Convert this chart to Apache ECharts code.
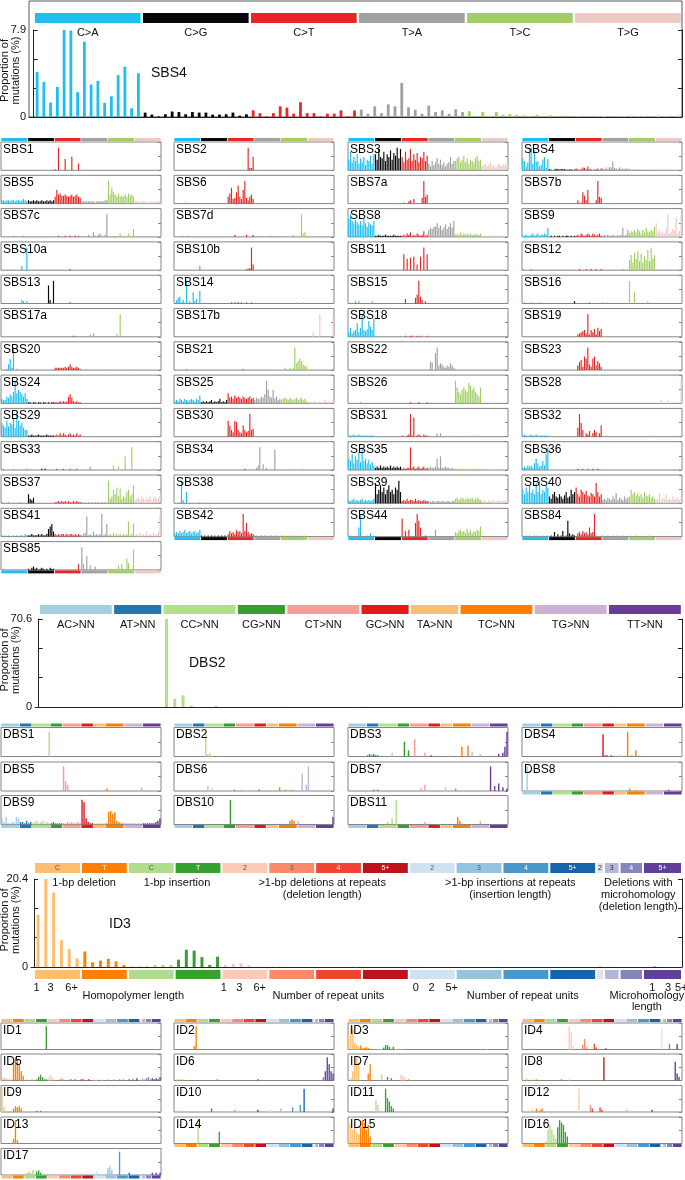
<!DOCTYPE html>
<html><head><meta charset="utf-8">
<script src="https://cdn.jsdelivr.net/npm/echarts@6/dist/echarts.min.js"></script>
<style>html,body{margin:0;padding:0;background:#fff;}#chart{width:685px;height:1180px;}</style>
</head><body><div id="chart"></div>
<script>
// ---------------- categories ----------------
const SBS_TYPES = ['C>A','C>G','C>T','T>A','T>C','T>G'];
const SBS_COUNTS = [16,16,16,16,16,16];
const SBS_COLORS = ['#1ebff0','#050708','#e62725','#a1a1a1','#a1cf64','#edc8c5'];

const DBS_TYPES = ['AC>NN','AT>NN','CC>NN','CG>NN','CT>NN','GC>NN','TA>NN','TC>NN','TG>NN','TT>NN'];
const DBS_COUNTS = [9,6,9,6,9,6,6,9,9,9];
const DBS_COLORS = ['#a6cee3','#1f78b4','#b2df8a','#33a02c','#fb9a99','#e31a1c','#fdbf6f','#ff7f00','#cab2d6','#6a3d9a'];

const ID_TYPES = ['C','T','C','T','2','3','4','5+','2','3','4','5+','2','3','4','5+'];
const ID_COUNTS = [6,6,6,6,6,6,6,6,6,6,6,6,1,2,3,5];
const ID_COLORS = ['#fdbe6f','#ff8001','#b0dd8b','#36a12e','#fdcab5','#fc8a6a','#f14432','#bc141a','#d0e1f2','#94c4df','#4a98c9','#1764ab','#e2e2ef','#b6b6d8','#8683bd','#61409b'];
const ID_TYPE_TEXT_COLORS = ['#555','#fff','#555','#fff','#555','#555','#fff','#fff','#555','#555','#fff','#fff','#333','#333','#fff','#fff'];
const ID_TOP_LABELS = [[6.4,'1-bp deletion'],[18.3,'1-bp insertion'],[36.9,'>1-bp deletions at repeats\n(deletion length)'],[61,'>1-bp insertions at repeats\n(insertion length)'],[77.4,'Deletions with\nmicrohomology\n(deletion length)']];
const ID_TICK_LABELS = [[0.3,'1'],[2.1,'3'],[4.8,'6+'],[24.3,'1'],[26.3,'3'],[28.9,'6+'],[48.9,'0'],[50.9,'2'],[53.5,'5+'],[79.2,'1'],[81.2,'3'],[82.9,'5+']];
const ID_AXIS_LABELS = [[12.7,'Homopolymer length'],[37.7,'Number of repeat units'],[62.6,'Number of repeat units'],[78.5,'Microhomology\nlength']];

const SBS_Y_LABELS = ['0','7.9'];
const DBS_Y_LABELS = ['0','70.6'];
const ID_Y_LABELS = ['0','20.4'];
const Y_TITLE = 'Proportion of\nmutations (%)';

// ---------------- SBS data (96 channels: C>A, C>G, C>T, T>A, T>C, T>G x 16 contexts) ----------------
// big panel in % ; small panels in relative units (each scaled to its own maximum)
const SBS4 = [4.10,3.19,1.31,2.73,7.90,7.85,2.25,6.84,2.95,3.28,1.28,1.88,3.80,4.56,0.79,3.98,
 0.40,0.22,0.05,0.25,0.50,0.45,0.25,0.45,0.40,0.40,0.22,0.22,0.25,0.40,0.12,0.25,
 0.61,0.35,0.05,0.35,0.97,0.85,0.30,1.34,0.35,0.35,0.05,0.30,0.30,0.60,0.05,0.60,
 0.67,0.30,0.97,0.35,1.15,0.97,3.10,0.88,0.67,0.30,1.03,0.45,0.61,0.30,0.70,0.45,
 0.52,0.05,0.45,0.10,0.45,0.20,0.25,0.20,0.15,0.10,0.20,0.05,0.15,0.05,0.12,0.05,
 0.05,0.02,0.02,0.05,0.10,0.02,0.05,0.05,0.15,0.05,0.05,0.02,0.15,0.05,0.02,0.15];
const SBS1 = [0,0,0,0,0,0,0,0,0,0,0,0,0,0,0,0, 0,0,0,0,0,0,0,0,0,0,0,0,0,0,0,0, 1,0,20,0,0,0,10,0,0,0,12,0,0,0,6,0, 0,0,0,0,0,0,0,0,0,0,0,0,0,0,0,0, 0,0,0,0,0,0,0,0,0,0,0,0,0,0,0,0, 0,0,0,0,0,0,0,0,0,0,0,0,0,0,0,0];
const SBS2 = [0,0,0,0,0,0,0,0,0,0,0,0,0,0,0,0, 0,0,0,0,0,0,0,0,0,0,0,0,0,0,0,0, 0,0,0,0,0,0,0,0,0,0,0,0,20,2,2,12, 0,0,0,0,0,0,0,0,0,0,0,0,0,0,0,0, 0,0,0,0,0,0,0,0,0,0,0,0,0,0,0,0, 0,0,0,0,0,0,0,0,0,0,0,0,0,0,0,0];
const SBS3 = [8,14,6,10,7,12,5,9,6,10,4,8,7,11,5,12, 12,8,16,10,9,14,7,12,10,15,8,13,11,17,9,16, 10,6,14,8,9,16,7,12,8,13,6,10,9,14,7,11, 5,3,7,4,6,9,5,8,4,6,3,5,6,10,5,7, 7,9,10,6,8,11,6,9,5,8,7,6,9,11,7,8, 3,4,5,3,4,6,3,4,2,3,5,4,3,5,4,6];
const SBS5 = [3,3,2,3,3,2,3,3,2,3,3,2,3,4,3,2, 3,2,2,3,2,3,2,2,3,2,2,3,2,3,2,3, 6,12,8,9,7,7,8,7,6,7,8,6,7,8,6,5, 2,2,2,2,2,2,2,2,1,2,2,2,2,2,3,3, 20,8,14,10,8,6,9,6,7,6,8,6,9,7,8,6, 2,2,2,1,2,2,2,1,1,2,2,1,2,2,2,2];
const SBS6 = [0,0,0,0,0,0,0,1,0,0,0,0,0,0,0,0, 0,0,0,0,0,0,0,0,0,0,0,0,0,0,0,0, 6,9,14,4,5,10,16,6,4,12,20,5,3,6,8,4, 0,0,0,0,0,0,0,0,0,0,0,0,0,0,0,0, 0,0,0,0,0,0,0,0,0,0,0,0,0,0,0,0, 0,0,0,0,0,0,0,0,0,0,0,0,0,0,0,0];
const SBS7a = [0,0,0,0,0,0,0,0,0,0,0,0,0,0,0,0, 0,0,0,0,0,0,0,0,0,0,0,0,0,0,0,0, 0,1,0,0,2,3,0,4,0,0,0,0,5,20,6,8, 0,0,0,0,0,0,0,0,0,0,0,0,0,0,0,0, 0,0,0,0,0,0,0,0,0,0,0,0,0,0,0,0, 0,0,0,0,0,0,0,0,0,0,0,0,0,0,0,0];
const SBS7b = [0,0,0,0,0,0,0,0,0,0,0,0,0,0,0,0, 0,0,0,0,0,0,0,0,0,0,0,0,0,0,0,0, 0,3,0,1,10,7,3,12,0,0,0,0,3,20,6,5, 0,0,0,0,0,0,0,0,0,0,0,0,0,0,0,0, 0,0,0,0,0,0,0,0,0,0,0,0,0,0,0,0, 0,0,0,0,0,0,0,0,0,0,0,0,0,0,0,0];
const SBS7c = [0,0,0,0,0,0,0,1,0,0,0,0,0,1,0,0, 0,0,0,0,0,0,0,0,0,0,0,0,0,0,0,0, 0,0,1,0,0,0,1,0,0,1,0,0,1,0,1,0, 0,0,0,0,2,0,0,4,1,0,2,3,1,0,2,20, 0,0,0,1,0,0,0,3,0,0,0,1,3,0,0,7, 0,0,0,0,0,0,0,0,0,0,0,0,0,0,0,1];
const SBS7d = [0,0,0,0,1,0,0,0,1,0,0,0,0,0,0,0, 0,0,0,0,0,0,0,0,0,0,0,0,0,0,0,0, 0,0,0,0,2,0,0,0,0,0,0,2,0,0,0,2, 0,0,0,0,1,0,0,0,1,0,1,0,0,0,0,1, 0,0,0,0,0,0,0,2,0,0,0,0,20,3,4,1, 0,0,0,0,0,0,0,0,0,0,0,0,0,0,0,0];
const SBS8 = [16,20,14,12,15,13,11,14,10,16,12,9,13,11,10,14, 1,1,2,1,1,1,2,1,1,1,1,2,1,1,1,1, 1,2,1,3,2,4,1,2,1,3,2,1,2,5,1,2, 6,8,7,9,9,12,8,10,6,8,11,7,9,12,8,14, 2,3,2,4,2,3,2,3,2,3,2,2,3,2,2,3, 1,1,0,1,1,0,1,1,0,1,1,0,1,1,0,1];
const SBS9 = [1,1,2,1,1,2,3,1,2,3,1,2,2,3,2,8, 0,1,0,1,0,1,1,0,1,0,1,1,0,1,0,1, 1,2,1,3,2,1,2,3,2,1,3,2,1,2,3,1, 1,2,1,2,1,1,2,1,1,2,1,2,8,1,2,6, 3,5,4,6,4,7,5,3,6,4,8,5,4,6,5,9, 12,4,6,3,5,3,8,20,3,4,7,6,17,3,5,20];
const SBS10a = [0,0,0,0,0,0,0,0,0,0,0,0,4,0,0,20, 0,0,0,0,0,0,0,0,0,0,0,0,0,0,0,0, 0,0,0,0,0,0,0,0,0,1,0,0,0,0,0,0, 0,0,0,0,0,0,0,0,0,0,0,0,0,0,0,0, 0,0,0,0,0,0,0,0,0,0,0,0,0,0,0,0, 0,0,0,0,0,0,0,0,0,0,0,0,0,0,0,0];
const SBS10b = [0,0,0,0,0,0,0,0,0,0,0,0,0,0,0,4, 0,0,0,0,0,0,0,0,0,0,0,0,0,0,0,0, 0,0,0,0,0,0,0,0,0,0,0,1,1,2,20,5, 0,0,0,0,0,0,0,0,0,0,0,0,0,0,0,0, 0,0,0,0,0,0,0,0,0,0,0,0,0,0,0,0, 0,0,0,0,0,0,0,0,0,0,0,0,0,0,0,1];
const SBS11 = [0,0,0,0,0,0,0,0,0,0,0,0,0,0,0,0, 0,0,0,0,0,0,0,0,0,0,0,0,0,0,0,0, 0,14,0,10,0,11,0,12,0,5,0,12,0,20,0,14, 0,0,0,0,0,0,0,0,0,0,0,0,0,0,0,0, 0,0,0,0,0,0,0,0,0,0,0,0,0,0,0,0, 0,0,0,0,0,0,0,0,0,0,0,0,0,0,0,0];
const SBS12 = [1,0,0,0,0,1,0,0,0,0,0,0,0,0,0,0, 0,0,0,0,0,0,0,0,0,0,0,0,0,0,0,0, 0,0,1,0,0,0,1,0,0,1,0,0,1,0,0,1, 0,0,0,0,0,0,0,0,0,0,0,0,1,0,0,0, 8,12,6,14,9,15,7,13,6,11,8,16,7,18,9,12, 0,0,0,0,0,0,0,0,0,0,0,0,0,0,0,0];
const SBS13 = [0,0,0,0,0,0,0,0,0,0,0,0,3,2,0,2, 0,0,0,0,0,0,0,0,0,0,0,0,16,3,0,20, 0,0,0,0,0,0,0,0,0,1,0,0,0,0,0,0, 0,0,0,0,0,0,0,0,0,0,0,0,0,0,0,0, 0,0,0,0,0,0,0,0,0,0,0,0,0,0,0,0, 0,0,0,0,0,0,0,0,0,0,0,0,0,0,0,0];
const SBS14 = [0,3,5,6,1,3,0,20,0,2,0,10,2,4,0,11, 0,0,0,0,0,0,0,0,0,0,0,0,0,0,0,0, 0,0,1,0,1,0,1,0,1,0,0,1,0,0,1,0, 0,0,0,0,0,0,0,0,0,0,0,0,0,0,0,0, 0,0,0,0,0,0,0,0,0,1,0,0,0,1,0,0, 0,0,0,0,0,0,0,0,0,0,0,0,0,0,0,0];
const SBS15 = [0,0,0,0,2,0,2,0,0,0,0,0,0,0,2,0, 0,0,0,0,0,0,0,0,0,0,0,0,0,0,0,0, 0,0,4,0,0,0,0,0,5,8,20,6,3,0,2,0, 0,0,0,0,0,0,0,0,0,0,0,0,0,0,0,0, 0,0,0,0,0,0,0,0,0,0,0,0,1,0,0,0, 0,0,0,0,0,0,0,0,0,0,0,0,0,0,0,0];
const SBS16 = [0,1,0,0,0,1,0,0,0,0,1,0,0,0,0,0, 0,0,0,0,0,0,0,0,0,0,0,0,0,0,0,2, 0,0,0,0,0,0,0,0,1,0,0,0,0,0,0,0, 1,0,0,0,0,0,0,0,0,0,0,0,0,0,0,0, 20,0,0,10,0,0,0,0,0,0,0,2,0,0,0,0, 0,0,0,0,0,0,0,0,0,0,0,0,0,0,0,0];
const SBS17a = [0,0,0,0,0,0,0,0,0,0,0,0,0,0,0,0, 0,0,0,0,0,0,0,0,0,0,0,0,0,0,0,0, 0,0,0,0,0,0,0,0,0,0,0,1,0,0,0,0, 0,0,0,0,0,2,0,3,0,0,0,0,0,0,0,0, 0,0,0,0,0,3,0,20,0,0,0,0,0,0,0,0, 0,0,0,0,0,0,0,0,0,0,0,0,0,0,0,0];
const SBS17b = [0,0,0,0,0,0,0,0,0,0,0,0,0,0,0,0, 0,0,0,0,0,0,0,0,0,0,0,0,0,0,0,0, 0,0,0,0,0,0,0,0,0,0,0,0,0,0,0,0, 0,0,0,0,0,0,0,0,0,0,0,0,0,0,0,0, 0,0,0,0,0,0,0,0,0,0,0,0,0,0,0,0, 0,0,0,4,0,0,0,20,0,0,0,0,0,0,0,18];
const SBS18 = [4,8,3,5,6,12,4,8,20,6,5,7,14,9,6,16, 0,0,0,0,0,0,0,0,0,0,0,0,0,0,0,0, 0,0,1,0,0,1,1,0,0,1,0,1,0,0,0,1, 0,0,0,0,0,0,0,0,0,0,0,0,0,0,0,0, 0,0,0,0,0,0,0,0,0,0,0,0,0,0,0,0, 0,0,0,0,0,0,0,0,0,0,0,0,0,0,0,0];
const SBS19 = [0,0,0,0,0,0,0,0,0,0,0,0,0,0,0,0, 0,0,0,0,0,0,0,0,0,0,0,0,0,0,0,0, 0,2,3,4,5,6,3,20,2,6,4,7,2,8,5,7, 0,0,0,0,0,0,0,0,0,0,0,0,0,0,0,0, 0,0,0,0,0,0,0,0,0,0,0,0,0,0,0,0, 0,0,0,0,0,0,0,0,0,0,0,0,0,0,0,0];
const SBS20 = [0,0,0,1,5,10,2,20,0,1,0,0,0,0,0,0, 0,0,0,0,0,0,0,0,0,0,0,0,0,0,0,0, 2,2,2,2,2,2,3,2,3,5,3,2,2,3,2,1, 0,0,0,1,0,0,0,0,0,0,0,0,0,0,0,0, 0,1,0,0,0,0,0,0,0,0,0,0,0,0,0,1, 0,0,0,0,0,0,0,0,0,0,0,0,0,0,0,0];
const SBS21 = [0,0,0,0,0,0,0,1,0,0,0,0,0,0,0,0, 0,0,0,0,0,0,0,0,0,0,0,0,0,0,0,0, 0,0,0,0,0,0,0,0,0,1,0,0,0,0,0,0, 0,0,0,0,0,0,0,0,0,0,0,0,0,0,0,0, 0,0,2,0,0,2,0,2,20,6,8,10,8,5,4,3, 0,0,0,0,0,0,0,0,0,0,0,0,0,0,0,0];
const SBS22 = [0,0,0,0,0,0,0,0,0,0,0,0,0,0,0,0, 0,0,0,0,0,0,0,0,0,0,0,0,0,0,0,0, 0,0,0,0,0,0,0,0,0,0,0,0,0,0,0,0, 0,7,7,0,15,20,4,6,5,3,2,4,3,6,4,2, 1,0,0,0,0,0,0,0,0,0,0,0,0,0,0,0, 0,0,0,0,0,0,0,0,0,0,0,0,0,0,0,0];
const SBS23 = [0,0,0,0,0,0,0,0,0,0,0,0,0,0,0,0, 0,0,0,0,0,0,0,0,0,0,0,0,0,0,0,0, 0,4,7,9,3,12,10,20,5,3,10,12,4,8,6,3, 0,0,0,0,0,0,0,0,0,0,0,0,0,0,0,0, 0,0,0,0,0,0,0,0,0,0,0,0,0,0,0,0, 0,0,0,0,0,0,0,0,0,0,0,0,0,0,0,0];
const SBS24 = [4,3,3,6,5,8,6,10,20,9,12,10,8,6,9,4, 1,1,0,1,1,0,1,1,0,1,1,0,1,0,1,1, 1,1,1,2,1,2,1,2,6,8,5,2,1,2,1,1, 0,0,0,0,0,0,0,0,0,0,0,0,0,0,0,0, 0,0,0,0,0,0,0,0,0,0,0,0,0,0,0,0, 0,0,0,0,0,0,0,0,0,0,0,0,0,0,0,0];
const SBS25 = [2,3,2,4,3,2,4,3,2,3,4,3,2,4,3,7, 1,2,1,2,1,2,3,1,2,1,2,4,1,2,1,3, 9,5,6,4,7,5,6,5,4,6,5,4,5,6,4,5, 3,5,4,4,6,5,8,20,12,6,5,12,4,6,3,4, 3,4,5,4,3,5,4,3,4,5,3,4,5,3,4,2, 1,2,1,1,2,1,1,2,1,1,3,1,2,1,1,3];
const SBS26 = [0,0,0,0,0,0,0,1,0,0,0,0,0,0,0,0, 0,0,0,0,0,0,0,0,0,0,0,0,0,0,0,0, 0,0,0,0,0,1,0,0,0,0,1,0,0,0,0,1, 0,0,0,0,0,0,0,0,0,0,0,0,0,0,0,0, 20,14,10,8,12,14,12,10,18,16,12,14,10,8,6,14, 0,0,0,0,0,0,0,0,1,0,0,0,0,0,0,0];
const SBS28 = [0,0,0,0,0,0,0,0,0,0,0,0,0,0,0,0, 0,0,0,0,0,0,0,0,0,0,0,0,0,0,0,0, 0,0,0,0,0,0,0,0,0,0,0,0,0,0,0,0, 0,0,0,0,0,0,0,0,0,0,0,0,0,0,0,0, 0,0,0,0,0,0,0,0,0,0,0,0,0,0,0,0, 0,0,0,3,0,0,0,3,0,0,0,1,0,0,0,20];
const SBS29 = [12,10,8,14,9,12,11,16,8,20,14,10,12,8,6,6, 1,1,2,1,1,1,2,1,1,1,1,2,1,1,1,1, 1,2,1,3,1,3,2,1,2,3,1,2,1,3,1,2, 0,0,0,0,0,0,0,0,0,0,0,0,0,0,0,0, 0,0,0,0,0,0,0,0,0,0,0,0,0,0,0,0, 0,0,0,0,0,0,0,0,0,0,0,0,0,0,0,0];
const SBS30 = [0,0,0,0,0,0,0,0,0,0,0,0,0,0,0,0, 0,0,0,0,0,0,0,0,0,0,0,0,0,0,0,0, 14,10,6,4,14,13,6,4,3,10,6,4,5,20,6,7, 0,0,0,0,0,0,0,0,0,0,0,0,0,0,0,0, 0,0,0,0,0,0,0,0,0,0,0,0,0,0,0,0, 0,0,0,0,0,0,0,0,0,0,0,0,0,0,0,0];
const SBS31 = [1,1,1,2,1,1,2,1,1,1,1,1,1,1,1,1, 0,0,0,0,0,0,0,0,0,0,0,0,0,0,0,0, 1,0,0,1,2,20,1,17,0,1,2,1,0,2,1,1, 0,0,0,0,0,3,0,3,0,0,0,0,0,0,0,0, 1,0,1,0,0,0,1,0,0,0,1,0,0,0,1,0, 0,0,0,0,0,0,0,0,0,0,0,0,0,0,0,0];
const SBS32 = [1,2,1,1,1,2,1,1,2,1,1,1,1,1,1,1, 0,0,0,0,0,0,0,0,0,0,0,0,0,0,0,0, 0,8,20,12,6,0,3,2,5,0,3,6,4,0,3,10, 0,0,1,0,0,0,0,0,0,0,0,0,0,0,0,0, 0,0,0,0,0,0,0,0,0,0,0,0,1,0,0,0, 0,0,0,0,0,0,0,0,0,0,0,0,0,0,0,0];
const SBS33 = [0,1,0,0,0,0,0,1,0,0,0,0,0,0,0,1, 0,0,0,0,0,0,0,0,1,0,1,0,0,0,0,0, 0,1,0,0,0,1,0,0,0,1,0,0,0,1,0,0, 0,0,0,0,0,3,0,0,0,0,0,0,0,0,0,0, 0,0,0,4,0,0,3,0,0,0,12,0,0,0,20,0, 0,0,0,0,0,0,0,0,0,0,0,0,0,0,0,0];
const SBS34 = [0,0,0,0,0,0,0,0,0,0,0,0,0,0,0,0, 0,0,0,0,0,0,0,0,0,0,0,0,0,0,0,0, 0,0,0,0,0,0,0,0,0,0,1,0,0,0,0,0, 0,2,4,20,0,5,0,2,0,0,0,0,18,0,0,0, 0,0,0,0,0,1,0,0,0,0,0,0,0,1,0,0, 0,0,0,0,0,0,0,0,0,0,0,0,0,0,0,0];
const SBS35 = [10,8,14,6,12,9,16,7,20,8,10,6,9,5,7,4, 2,3,2,4,2,3,2,3,2,4,2,3,2,3,2,3, 1,2,1,2,2,20,2,3,1,2,3,1,2,3,1,2, 2,3,2,2,3,10,2,12,2,2,3,2,2,1,2,1, 1,1,0,1,1,0,1,1,0,1,1,0,1,1,0,1, 1,0,1,0,1,0,1,0,1,0,1,0,1,0,1,0];
const SBS36 = [2,3,2,4,3,4,2,6,10,6,3,4,8,4,14,20, 0,0,0,0,0,0,0,0,0,0,0,0,0,0,0,0, 0,1,0,0,1,0,0,1,0,0,1,0,0,1,0,0, 0,0,0,0,0,0,0,0,0,0,0,0,0,0,0,0, 0,0,0,0,0,0,0,0,0,0,0,0,0,0,0,0, 0,0,0,0,0,0,0,0,0,0,0,0,0,0,0,1];
const SBS37 = [1,0,0,0,1,0,0,0,0,0,0,1,0,0,0,0, 8,4,3,5,0,0,0,0,0,0,0,0,0,0,0,0, 1,1,2,1,2,1,2,1,2,1,1,2,1,2,1,1, 1,0,1,0,1,0,1,0,1,0,1,0,1,0,1,0, 20,4,6,12,8,14,6,13,4,6,5,10,12,6,8,16, 3,4,5,3,6,4,3,5,4,7,3,5,6,4,5,7];
const SBS38 = [0,0,0,1,20,3,0,10,0,0,0,0,0,0,0,1, 0,0,0,0,0,0,0,0,0,0,0,0,0,0,0,0, 0,0,0,0,0,0,0,0,0,0,0,0,0,0,0,0, 0,0,0,0,0,0,0,0,0,0,0,0,0,0,0,0, 0,0,0,0,0,0,0,0,0,0,0,0,0,0,0,0, 0,0,0,0,0,0,0,0,0,0,0,0,0,0,0,0];
const SBS39 = [3,2,3,4,2,3,2,3,4,2,3,2,3,2,3,4, 18,8,12,16,10,14,8,12,16,10,12,8,14,12,20,10, 2,3,2,4,2,3,3,2,4,2,3,2,2,3,2,2, 2,1,2,2,1,2,2,1,2,2,1,2,2,1,2,2, 4,5,3,4,5,4,3,5,4,4,5,3,4,5,4,3, 2,3,2,1,3,2,2,3,1,2,3,2,2,3,2,3];
const SBS40 = [12,8,14,10,16,9,12,8,18,10,20,8,12,10,16,14, 6,4,8,10,6,5,8,6,4,7,10,5,6,12,8,10, 14,8,6,12,10,8,11,7,6,9,8,6,18,10,6,8, 3,4,3,5,4,3,6,4,9,3,5,4,3,6,4,5, 6,12,8,10,7,9,6,8,5,10,7,6,8,5,6,4, 3,4,9,3,5,4,8,3,4,3,6,3,4,5,3,7];
const SBS41 = [1,0,1,0,1,0,0,1,0,1,0,1,1,0,2,1, 1,1,2,1,1,1,2,1,2,1,1,2,6,8,10,4, 2,1,2,1,2,2,1,2,1,2,2,1,2,1,2,1, 1,2,3,16,1,2,1,4,1,2,1,2,18,1,2,10, 1,2,1,3,1,2,1,2,1,2,1,2,12,1,2,10, 1,2,1,3,1,2,1,4,1,2,1,3,1,2,4,18];
const SBS42 = [3,4,3,5,3,4,6,3,4,5,3,4,5,3,4,6, 1,0,1,0,1,0,1,0,1,0,1,0,1,0,1,0, 2,5,3,4,2,6,4,5,3,20,5,12,4,2,3,2, 1,1,0,1,1,0,1,1,0,1,1,0,1,1,0,1, 1,0,1,0,1,0,1,0,1,0,1,0,1,0,1,0, 0,0,0,0,0,0,0,0,0,0,0,0,0,0,0,0];
const SBS44 = [0,1,0,0,0,0,8,20,0,0,0,1,0,3,0,1, 0,0,0,0,0,0,0,0,0,0,0,0,0,0,0,0, 16,0,5,0,6,0,0,0,12,20,14,8,0,0,1,0, 0,0,0,0,6,0,0,0,0,0,0,0,0,0,0,0, 4,3,5,6,4,5,3,7,4,6,3,5,4,6,5,9, 0,0,0,0,0,0,0,0,0,0,0,0,0,0,0,0];
const SBS84 = [1,0,1,0,1,0,0,1,0,1,0,0,1,0,0,1, 0,1,0,4,0,2,0,1,5,0,1,14,3,1,2,1, 0,3,4,2,5,3,4,2,8,3,4,20,0,0,0,0, 1,0,0,1,0,0,1,0,0,1,0,0,1,0,0,0, 1,0,0,0,1,0,0,0,1,0,0,0,1,0,0,0, 0,0,0,0,0,0,0,0,0,0,0,0,0,0,0,0];
const SBS85 = [0,1,0,0,0,0,0,0,0,0,0,0,0,0,0,0, 1,0,2,3,1,2,0,1,2,1,0,1,0,2,1,1, 0,0,0,0,0,0,0,0,0,0,0,0,0,0,5,0, 20,5,0,12,0,4,0,0,3,0,0,0,0,0,0,0, 0,0,0,0,0,0,4,0,5,0,0,10,6,0,0,18, 0,0,0,0,0,0,0,0,0,0,0,0,0,0,0,0];

// ---------------- DBS data (78 channels) ----------------
const DBS2 = [0,0,0,0,0,0,0,0,0, 0,0,0,0,0,0, 70.6,6.5,9.4,1.0,0,0,0.8,0,0, 0,0,0,0,0,0.1, 0,0,0,0,0,0,0,0,0, 0.1,0,0,0,0,0, 0,0,0,0,0,0, 0,0,0,0,0,0,0,0,0, 0,0,0,0,0,0,0,0,0, 0.1,0,0,0,0,0,0,0,0];
const DBS1 = [0,0,0,0,0,0,0,0,0, 0,0,0,0,0,0, 0,0,1,0,0,0,0,0,20, 0,0,0,0,0,0, 0,0,0,0,0,0,0,0,0, 0,0,0,0,0,0, 0,0,0,0,0,0, 0,0,0,0,0,0,0,0,0, 0,0,0,0,0,0,0,0,0, 0,0,0,0,0,0,0,0,0];
const DBS3 = [0,0,0,0,0,0,0,0,0, 1,2,1,2,1,1, 0,0,0,0,0,0,3,0,0, 0,0,0,12,0,5, 0,0,14,0,0,0,0,3,0, 0,1,0,0,0,0, 0,0,0,0,1,0, 0,0,0,0,8,0,0,9,0, 4,0,0,0,2,0,0,0,0, 0,0,0,0,2,0,3,8,20];
const DBS4 = [0,0,0,0,0,0,0,0,0, 0,0,0,0,0,0, 0,0,0,0,0,0,0,0,0, 0,0,0,0,0,0, 0,0,0,0,0,0,0,0,0, 18,1,1,0,1,0, 1,0,1,1,0,1, 20,0,1,0,5,0,0,0,0, 0,0,0,0,0,0,0,0,0, 0,0,0,0,0,0,0,0,0];
const DBS5 = [0,0,0,0,0,0,0,0,0, 0,0,0,0,0,0, 0,1,0,0,0,0,0,0,0, 0,0,0,0,0,0, 20,8,5,0,0,0,0,0,0, 0,0,0,0,0,0, 0,0,0,0,0,0, 2,0,0,0,0,0,0,0,0, 0,0,0,0,0,0,0,0,3, 0,0,0,0,0,0,0,0,0];
const DBS6 = [0,0,0,0,0,0,0,0,0, 0,0,0,0,0,0, 0,4,0,2,0,0,0,0,0, 0,0,0,0,0,1, 0,0,1,0,0,0,0,0,1, 0,0,1,0,0,0, 0,0,0,1,0,0, 3,0,0,1,0,0,1,0,0, 0,0,14,0,5,20,0,0,0, 0,0,0,0,0,0,0,0,0];
const DBS7 = [0,1,0,0,0,0,0,0,0, 0,0,0,1,0,1, 0,0,0,0,0,0,0,0,0, 0,0,0,0,0,0, 0,0,0,0,0,2,0,5,0, 0,0,0,0,0,0, 0,0,3,0,0,0, 0,2,0,0,0,0,0,0,0, 0,0,0,0,0,0,0,0,0, 20,0,4,0,6,0,3,0,2];
const DBS8 = [0,0,20,0,0,0,0,0,0, 0,0,0,0,0,0, 0,1,0,0,0,0,0,0,0, 0,0,0,0,0,0, 0,0,0,0,0,0,0,0,0, 0,0,0,0,0,0, 0,0,0,0,0,0, 0,2,0,0,1,0,0,0,0, 0,0,0,0,0,0,0,0,0, 0,0,1,0,0,0,0,0,0];
const DBS9 = [5,2,6,1,1,2,2,6,5, 2,2,1,3,1,2, 1,2,3,1,2,3,1,2,1, 1,2,1,1,1,1, 1,1,2,1,2,1,1,2,1, 20,18,5,2,1,1, 1,1,1,1,1,1, 1,10,11,9,10,3,2,1,1, 1,1,1,1,1,1,1,1,1, 1,1,1,1,1,1,2,3,5];
const DBS10 = [0,0,0,0,0,0,0,0,0, 0,0,0,0,0,0, 0,0,0,0,0,0,0,0,0, 0,0,0,20,0,0, 0,0,0,0,0,0,0,0,0, 0,0,0,0,0,0, 0,0,0,0,0,0, 0,0,0,0,0,3,4,3,0, 3,0,0,0,0,0,0,0,0, 0,0,0,0,0,0,0,0,6];
const DBS11 = [0,0,0,0,0,0,0,0,0, 0,0,0,0,0,0, 0,0,0,0,2,0,5,0,20, 0,0,0,0,0,0, 0,0,0,0,0,0,0,2,0, 0,0,0,0,0,0, 0,0,0,0,0,0, 0,0,6,3,0,0,0,0,0, 0,0,0,0,3,0,0,0,0, 0,0,0,0,0,0,0,0,0];

// ---------------- ID data (83 channels) ----------------
const ID3 = [12.1,20.4,17.2,6.2,4.2,2.0, 3.6,1.1,1.5,1.9,1.3,0.5, 0.15,0.15,0.2,0.5,0.5,0.5, 1.7,4.0,3.8,2.3,0.5,2.4, 0.5,0.7,0.9,0.5,0.1,0.05, 0.05,0.05,0,0,0,0, 0,0,0,0,0,0, 0,0,0,0,0,0, 0.05,0.05,0,0,0,0, 0,0,0,0,0,0, 0,0,0,0,0,0, 0,0,0,0,0,0, 0.4, 0.05,0, 0,0,0, 0,0.1,0,0,0];
const ID1 = [0,0,0,0,0,0, 0,0,0,0,0,0, 0,0,0,0,0,0, 0,0,0,0,0,20, 0,0,0,0,0,0, 0,0,0,0,0,0, 0,0,0,0,0,0, 0,0,0,0,0,0, 0,0,0,0,0,0, 0,0,0,0,0,0, 0,0,0,0,0,0, 0,0,0,0,0,0, 0, 0,0, 0,0,0, 0,0,0,0,0];
const ID2 = [0,0,0,0,0,0, 0,0,0,0,3,20, 0,0,0,0,0,0, 0,0,0,0,0,0, 0,0,0,0,0,0, 0,0,0,0,0,0, 0,0,0,0,0,0, 0,0,0,0,0,0, 0,0,0,0,0,0, 0,0,0,0,0,0, 0,0,0,0,0,0, 0,0,0,0,0,0, 0, 0,0, 0,0,0, 0,0,0,0,0];
const ID4 = [0,0,0,0,0,1, 0,0,0,0,0,0, 0,0,0,0,0,0, 0,0,0,0,0,0, 20,15,3,0,0,0, 0,4,9,2,0,0, 0,5,2,0,0,0, 0,1,0,0,0,0, 0,0,0,0,0,0, 0,0,0,0,0,0, 0,0,0,0,0,0, 0,0,0,0,0,0, 18, 0,0, 0,5,0, 0,0,5,0,0];
const ID5 = [3,2,2,1,1,1, 16,20,18,14,8,4, 0,1,0,1,1,0, 1,3,5,3,1,1, 2,5,3,1,0,0, 1,2,1,0,0,1, 1,0,1,0,0,1, 1,0,0,1,0,0, 1,1,0,0,1,0, 0,1,0,0,1,0, 0,1,0,1,0,0, 1,0,1,0,2,0, 1, 2,1, 2,3,1, 2,1,2,1,3];
const ID6 = [0,1,1,0,1,0, 0,0,0,0,0,0, 0,0,0,0,0,0, 0,0,0,0,1,0, 0,0,0,0,0,0, 0,0,0,0,0,0, 0,0,0,0,0,0, 0,1,0,0,0,0, 0,0,0,0,0,0, 0,0,0,0,0,0, 0,0,0,0,0,0, 0,0,0,0,0,0, 0, 0,0, 0,0,3, 8,20,14,8,6];
const ID7 = [0,2,8,14,20,13, 0,0,0,0,6,14, 0,0,0,0,0,5, 0,0,3,0,2,0, 0,0,0,5,4,3, 0,1,0,0,0,0, 0,0,0,0,0,0, 0,0,0,0,0,0, 0,0,0,0,0,0, 0,0,0,0,0,0, 0,0,0,0,0,0, 0,0,0,0,0,0, 0, 0,0, 0,0,0, 0,0,0,0,0];
const ID8 = [1,0,2,0,0,1, 0,1,0,0,0,0, 0,0,0,0,0,0, 0,0,1,0,0,0, 1,0,0,0,0,0, 0,0,0,0,0,0, 0,0,0,0,0,0, 20,0,0,0,0,0, 0,0,0,0,0,0, 0,0,0,0,0,0, 0,0,0,0,0,0, 0,0,0,0,0,0, 0, 0,0, 0,0,0, 0,16,6,3,0];
const ID9 = [20,4,0,0,0,0, 3,5,4,5,3,0, 0,0,0,0,0,0, 1,0,1,0,0,0, 0,0,0,0,0,0, 0,0,0,0,0,0, 0,0,0,0,0,0, 0,0,0,0,0,0, 0,0,0,0,0,0, 0,0,0,0,0,0, 0,0,0,0,0,0, 0,0,0,0,0,0, 0, 0,0, 0,0,0, 0,0,0,0,0];
const ID10 = [0,1,0,1,0,0, 0,0,0,0,0,0, 0,0,0,0,0,0, 0,3,0,0,0,0, 0,0,0,0,0,0, 0,2,0,0,0,0, 0,0,0,0,0,0, 0,2,0,0,0,0, 0,0,2,0,0,0, 0,3,0,0,0,0, 0,4,0,0,0,6, 0,20,0,0,0,0, 0, 0,0, 0,0,0, 0,0,0,0,3];
const ID11 = [0,0,0,0,0,0, 0,0,0,0,0,0, 0,0,10,6,0,0, 0,20,12,9,5,3, 0,0,0,0,0,0, 0,0,0,0,0,0, 0,0,0,0,0,0, 0,0,0,0,0,0, 0,0,0,0,0,0, 0,0,0,0,0,0, 0,0,0,0,0,0, 0,0,0,0,0,0, 0, 0,0, 0,0,0, 0,0,0,0,0];
const ID12 = [0,0,0,0,0,2, 0,3,0,2,3,0, 0,0,0,0,0,0, 0,0,0,0,0,0, 0,0,0,0,0,20, 0,0,0,0,0,6, 3,0,0,0,4,2, 0,0,0,0,0,0, 0,0,0,0,0,0, 2,0,0,0,0,0, 0,0,0,0,0,0, 0,2,0,0,0,0, 0, 0,0, 0,0,0, 0,0,0,0,0];
const ID13 = [0,0,0,0,0,0, 4,20,3,0,0,0, 0,0,0,0,0,1, 0,0,0,0,0,0, 0,0,0,0,0,0, 0,0,0,0,0,0, 0,0,0,0,0,0, 0,0,0,0,0,0, 0,0,0,0,0,0, 0,0,0,0,0,0, 0,0,0,0,0,0, 0,0,0,0,0,0, 0, 0,0, 0,0,0, 0,0,0,0,0];
const ID14 = [0,0,0,0,0,0, 0,0,0,0,0,0, 20,0,0,0,0,0, 0,0,0,0,0,10, 1,0,0,0,0,0, 0,0,0,0,0,0, 0,0,0,0,0,0, 0,0,0,0,0,0, 0,0,0,0,0,0, 0,0,0,0,0,0, 0,0,0,0,0,0, 0,0,0,0,0,0, 0, 0,0, 0,0,0, 0,0,0,0,0];
const ID15 = [18,16,12,14,10,8, 14,20,18,12,16,6, 0,1,0,0,0,0, 0,0,0,0,0,0, 0,0,0,0,0,0, 0,0,0,0,0,0, 0,0,0,0,0,0, 0,0,0,0,0,0, 0,0,0,0,0,0, 0,0,0,0,0,0, 0,0,0,0,0,0, 0,0,0,0,0,0, 0, 0,0, 0,0,0, 0,0,0,0,0];
const ID16 = [0,0,0,0,0,0, 0,0,0,0,0,0, 2,12,16,12,8,4, 14,20,18,16,10,6, 0,0,0,0,0,0, 0,0,0,0,0,0, 0,0,0,0,0,0, 0,0,0,0,0,0, 0,0,0,0,0,0, 0,0,0,0,0,0, 0,0,0,0,0,0, 0,0,0,0,0,0, 0, 0,0, 0,0,0, 0,0,0,0,0];
const ID17 = [0,0,0,0,0,0, 0,0,0,0,0,0, 0,2,3,2,4,0, 3,4,2,0,0,0, 0,0,0,0,0,0, 0,0,0,0,0,0, 0,0,0,0,0,0, 0,0,0,0,0,0, 0,3,0,0,0,0, 0,6,8,4,0,0, 0,20,0,0,0,0, 2,0,0,0,0,0, 0, 0,0, 0,0,0, 2,0,2,0,2];

const SBS_PANELS = [['SBS1',SBS1],['SBS2',SBS2],['SBS3',SBS3],['SBS4',SBS4],['SBS5',SBS5],['SBS6',SBS6],['SBS7a',SBS7a],['SBS7b',SBS7b],
 ['SBS7c',SBS7c],['SBS7d',SBS7d],['SBS8',SBS8],['SBS9',SBS9],['SBS10a',SBS10a],['SBS10b',SBS10b],['SBS11',SBS11],['SBS12',SBS12],
 ['SBS13',SBS13],['SBS14',SBS14],['SBS15',SBS15],['SBS16',SBS16],['SBS17a',SBS17a],['SBS17b',SBS17b],['SBS18',SBS18],['SBS19',SBS19],
 ['SBS20',SBS20],['SBS21',SBS21],['SBS22',SBS22],['SBS23',SBS23],['SBS24',SBS24],['SBS25',SBS25],['SBS26',SBS26],['SBS28',SBS28],
 ['SBS29',SBS29],['SBS30',SBS30],['SBS31',SBS31],['SBS32',SBS32],['SBS33',SBS33],['SBS34',SBS34],['SBS35',SBS35],['SBS36',SBS36],
 ['SBS37',SBS37],['SBS38',SBS38],['SBS39',SBS39],['SBS40',SBS40],['SBS41',SBS41],['SBS42',SBS42],['SBS44',SBS44],['SBS84',SBS84],['SBS85',SBS85]];
const DBS_PANELS = [['DBS1',DBS1],['DBS2',DBS2],['DBS3',DBS3],['DBS4',DBS4],['DBS5',DBS5],['DBS6',DBS6],['DBS7',DBS7],['DBS8',DBS8],['DBS9',DBS9],['DBS10',DBS10],['DBS11',DBS11]];
const ID_PANELS = [['ID1',ID1],['ID2',ID2],['ID3',ID3],['ID4',ID4],['ID5',ID5],['ID6',ID6],['ID7',ID7],['ID8',ID8],['ID9',ID9],['ID10',ID10],['ID11',ID11],['ID12',ID12],['ID13',ID13],['ID14',ID14],['ID15',ID15],['ID16',ID16],['ID17',ID17]];

// ---------------- chart building ----------------
const FONT = '"Liberation Sans", Arial, Helvetica, sans-serif';
const grids = [], xAxes = [], yAxes = [], series = [], graphics = [];
const total = c => c.reduce((a, b) => a + b, 0);
function typeOf(counts, i) { let s = 0; for (let k = 0; k < counts.length; k++) { s += counts[k]; if (i < s) return k; } return counts.length - 1; }
function segments(counts) { const out = []; let s = 0; counts.forEach((c, k) => { out.push([s, s + c, k]); s += c; }); return out; }
function addGrid(grid, xa, ya) {
  grids.push(grid); const gi = grids.length - 1;
  xa.gridIndex = gi; ya.gridIndex = gi; xAxes.push(xa); yAxes.push(ya);
  return { gi, xi: xAxes.length - 1, yi: yAxes.length - 1 };
}
function txtStyle(text, font, fill, align, valign, extra) {
  return Object.assign({ text, font, fill, align, verticalAlign: valign, textAlign: align, textVerticalAlign: valign }, extra || {});
}
function addFrame(box, color) {
  addGrid({ left: box.left, top: box.top, width: box.width, height: box.height, show: true, borderColor: color, borderWidth: 1, backgroundColor: 'transparent' },
    { type: 'value', show: false }, { type: 'value', show: false });
}
function addStrip(box, counts, colors, gap, xmin, extras) {
  const N = total(counts);
  const ax = addGrid({ left: box.left, top: box.top, width: box.width, height: box.height, show: false },
    { type: 'value', min: xmin, max: N, show: false },
    { type: 'value', min: 0, max: 1, show: false });
  series.push({ type: 'custom', xAxisIndex: ax.xi, yAxisIndex: ax.yi, silent: true, clip: false, animation: false,
    data: segments(counts), encode: { x: [0, 1] },
    renderItem: (params, api) => {
      const k = api.value(2);
      const a = api.coord([api.value(0), 1]), b = api.coord([api.value(1), 0]);
      const ch = [{ type: 'rect', shape: { x: a[0] + gap, y: a[1], width: Math.max(0.8, b[0] - a[0] - 2 * gap), height: b[1] - a[1] }, style: { fill: colors[k] } }];
      if (extras && extras.inner) ch.push({ type: 'text', x: (a[0] + b[0]) / 2, y: (a[1] + b[1]) / 2 + 0.5, style: txtStyle(extras.inner[k], extras.innerFont, extras.innerColors[k], 'center', 'middle') });
      if (extras && extras.below) ch.push({ type: 'text', x: (a[0] + b[0]) / 2, y: b[1] + extras.belowDy, style: txtStyle(extras.below[k], extras.belowFont, '#111', 'center', 'middle') });
      return { type: 'group', children: ch };
    } });
  return ax;
}
function addTextLayer(ax, items, dy, font, lineHeight) {
  series.push({ type: 'custom', xAxisIndex: ax.xi, yAxisIndex: ax.yi, silent: true, clip: false, animation: false,
    data: items.map((it, j) => [it[0], 0, j]), encode: { x: 0, y: 1 },
    renderItem: (params, api) => {
      const j = api.value(2); const p = api.coord([api.value(0), 0]);
      return { type: 'text', x: p[0], y: p[1] + dy, style: txtStyle(items[j][1], font, '#111', 'center', 'top', { lineHeight }) };
    } });
}
function addBigChart(c) {
  const N = c.data.length;
  const ax = addGrid({ left: c.left, top: c.top, width: c.width, height: c.height, show: false },
    { type: 'value', min: c.xmin, max: N, axisLine: { show: true, onZero: false, lineStyle: { color: '#222', width: 1 } }, axisTick: { show: false }, axisLabel: { show: false }, splitLine: { show: false } },
    { type: 'value', min: 0, max: c.ymax, interval: c.ymax / 3, axisLine: { show: true, lineStyle: { color: '#222', width: 1 } },
      axisTick: { show: true, inside: true, length: 4, lineStyle: { color: '#222' } },
      axisLabel: { fontSize: 11, color: '#111', fontFamily: FONT, margin: 3, showMinLabel: true, showMaxLabel: true,
        formatter: v => (v === 0 ? c.yLabels[0] : (Math.abs(v - c.ymax) < 1e-6 ? c.yLabels[1] : '')) },
      splitLine: { show: false } });
  yAxes.push({ gridIndex: ax.gi, type: 'value', position: 'right', min: 0, max: c.ymax, interval: c.ymax / 3,
    axisLine: { show: true, lineStyle: { color: '#222', width: 1 } }, axisTick: { show: true, inside: true, length: 4, lineStyle: { color: '#222' } },
    axisLabel: { show: false }, splitLine: { show: false } });
  series.push({ type: 'bar', xAxisIndex: ax.xi, yAxisIndex: ax.yi, barWidth: c.barWidth, silent: true, animation: false,
    data: c.data.map((v, i) => ({ value: [i + 0.5, v], itemStyle: { color: c.colors[typeOf(c.counts, i)] } })) });
  graphics.push({ type: 'text', x: c.nameX, y: c.nameY, z: 100, style: txtStyle(c.name, `14px ${FONT}`, '#111', 'left', 'middle') });
  graphics.push({ type: 'text', x: 10, y: c.top + c.height / 2 - 3, rotation: Math.PI / 2, z: 100, style: txtStyle(Y_TITLE, `11px ${FONT}`, '#111', 'center', 'middle', { lineHeight: 11 }) });
  return ax;
}
function addSmallPanel(name, data, counts, colors, left, top, w, h, fill) {
  const m = Math.max(...data), ymax = m / fill;
  const ax = addGrid({ left, top, width: w, height: h, show: true, borderColor: '#858585', borderWidth: 1, backgroundColor: 'transparent' },
    { type: 'category', data: data.map((_, i) => i), show: false },
    { type: 'value', position: 'right', min: 0, max: ymax, interval: ymax / 2, axisLine: { show: false },
      axisTick: { show: true, inside: true, length: 3, lineStyle: { color: '#858585' } }, axisLabel: { show: false }, splitLine: { show: false } });
  series.push({ type: 'bar', xAxisIndex: ax.xi, yAxisIndex: ax.yi, barCategoryGap: '30%', silent: true, animation: false,
    data: data.map((v, i) => ({ value: v, itemStyle: { color: colors[typeOf(counts, i)] } })) });
  graphics.push({ type: 'text', x: left + 2, y: top + 1.5, z: 100, style: txtStyle(name, `12px ${FONT}`, '#000', 'left', 'top') });
}
function addSmallSection(panels, counts, colors, colLeft, W, rowTops, H, fill) {
  const last = [-1, -1, -1, -1];
  panels.forEach((p, k) => {
    const c = k % 4, r = Math.floor(k / 4);
    addSmallPanel(p[0], p[1], counts, colors, colLeft[c], rowTops[r], W, H, fill);
    last[c] = Math.max(last[c], r);
  });
  for (let c = 0; c < 4; c++) {
    if (last[c] < 0) continue;
    addStrip({ left: colLeft[c], top: rowTops[0] - 4, width: W, height: 3 }, counts, colors, 0.4, 0);
    addStrip({ left: colLeft[c], top: rowTops[last[c]] + H + 0.5, width: W, height: 3 }, counts, colors, 0.4, 0);
  }
}

// layout
const COL_LEFT = [1, 174, 348, 522], COL_W = 160;

// --- SBS ---
addFrame({ left: 29, top: 1, width: 653, height: 116 }, '#555');
addStrip({ left: 29, top: 13, width: 653, height: 10 }, SBS_COUNTS, SBS_COLORS, 1.2, -0.7, { below: SBS_TYPES, belowDy: 10, belowFont: `11px ${FONT}` });
addBigChart({ left: 29, top: 30, width: 653, height: 87, data: SBS4, counts: SBS_COUNTS, colors: SBS_COLORS, xmin: -0.7, ymax: 7.9, yLabels: SBS_Y_LABELS, barWidth: 2.8, name: 'SBS4', nameX: 151, nameY: 73 });
addSmallSection(SBS_PANELS, SBS_COUNTS, SBS_COLORS, COL_LEFT, COL_W, Array.from({ length: 13 }, (_, r) => 142 + 33.3 * r), 28.3, 0.8);

// --- DBS ---
addStrip({ left: 35, top: 605, width: 647, height: 9 }, DBS_COUNTS, DBS_COLORS, 1.2, -0.45, { below: DBS_TYPES, belowDy: 11, belowFont: `11px ${FONT}` });
addBigChart({ left: 35, top: 619, width: 647, height: 88, data: DBS2, counts: DBS_COUNTS, colors: DBS_COLORS, xmin: -0.45, ymax: 70.6, yLabels: DBS_Y_LABELS, barWidth: 3, name: 'DBS2', nameX: 189, nameY: 663 });
addSmallSection(DBS_PANELS, DBS_COUNTS, DBS_COLORS, COL_LEFT, COL_W, [727.5, 762, 795.5], 29, 0.85);

// --- ID ---
const idTop = addStrip({ left: 31, top: 863, width: 651, height: 10 }, ID_COUNTS, ID_COLORS, 1.0, -0.4, { inner: ID_TYPES, innerColors: ID_TYPE_TEXT_COLORS, innerFont: `7px ${FONT}` });
addTextLayer(idTop, ID_TOP_LABELS, 4, `11px ${FONT}`, 12);
addBigChart({ left: 31, top: 879, width: 651, height: 88, data: ID3, counts: ID_COUNTS, colors: ID_COLORS, xmin: -0.4, ymax: 20.4, yLabels: ID_Y_LABELS, barWidth: 3, name: 'ID3', nameX: 109, nameY: 924 });
const idBottom = addStrip({ left: 31, top: 970, width: 651, height: 9 }, ID_COUNTS, ID_COLORS, 1.0, -0.4);
addTextLayer(idBottom, ID_TICK_LABELS, 3, `11px ${FONT}`, 11);
addTextLayer(idBottom, ID_AXIS_LABELS, 11.5, `11px ${FONT}`, 11);
addSmallSection(ID_PANELS, ID_COUNTS, ID_COLORS, COL_LEFT, COL_W, [1023, 1054, 1085.5, 1117, 1148.5], 26.5, 0.88);

// sanity check of channel counts
const bad = [];
SBS_PANELS.forEach(p => { if (p[1].length !== 96) bad.push(p[0] + ':' + p[1].length); });
DBS_PANELS.forEach(p => { if (p[1].length !== 78) bad.push(p[0] + ':' + p[1].length); });
ID_PANELS.forEach(p => { if (p[1].length !== 83) bad.push(p[0] + ':' + p[1].length); });
if (bad.length) graphics.push({ type: 'text', x: 200, y: 600, z: 200, style: txtStyle('BAD ' + bad.join(' '), `14px ${FONT}`, '#f00', 'left', 'top') });

const chart = echarts.init(document.getElementById('chart'), null, { renderer: 'canvas' });
chart.setOption({
  animation: false,
  backgroundColor: '#fff',
  textStyle: { fontFamily: FONT },
  grid: grids, xAxis: xAxes, yAxis: yAxes, series: series,
  graphic: { elements: graphics }
});
</script></body></html>
